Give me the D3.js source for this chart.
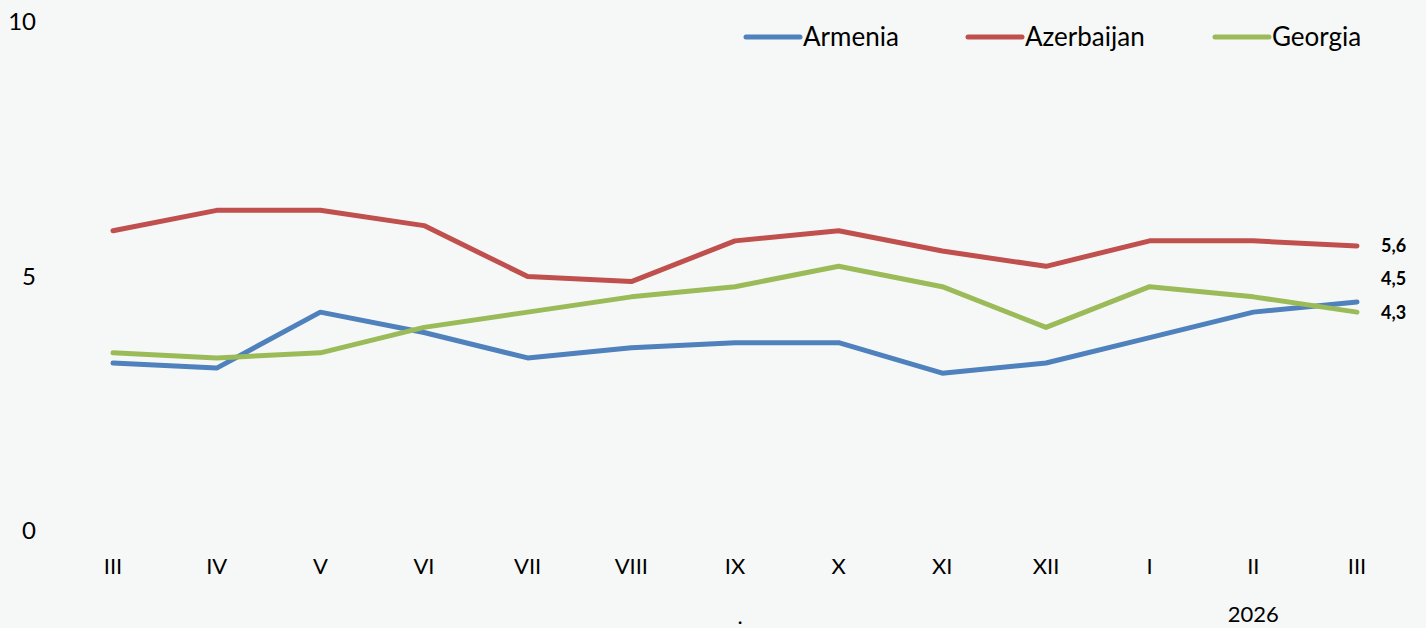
<!DOCTYPE html>
<html>
<head>
<meta charset="utf-8">
<script src="https://cdn.jsdelivr.net/npm/d3@7"></script>
<style>
  body { margin: 0; background: #f6f8f7; }
  svg { display: block; font-family: Lato, "Open Sans", sans-serif; }
</style>
</head>
<body>
<svg></svg>
<script>
const months = ["III", "IV", "V", "VI", "VII", "VIII", "IX", "X", "XI", "XII", "I", "II", "III"];
const armenia = [3.3, 3.2, 4.3, 3.9, 3.4, 3.6, 3.7, 3.7, 3.1, 3.3, 3.8, 4.3, 4.5];
const azerbaijan = [5.9, 6.3, 6.3, 6.0, 5.0, 4.9, 5.7, 5.9, 5.5, 5.2, 5.7, 5.7, 5.6];
const georgia = [3.5, 3.4, 3.5, 4.0, 4.3, 4.6, 4.8, 5.2, 4.8, 4.0, 4.8, 4.6, 4.3];
const yTicks = [0, 5, 10];
const seriesNames = ["Armenia", "Azerbaijan", "Georgia"];
const colors = ["#4f81bd", "#c0504d", "#9bbb59"];

const series = [armenia, azerbaijan, georgia];

const width = 1426, height = 628;
const svg = d3.select("svg").attr("width", width).attr("height", height);

const x = d3.scalePoint()
    .domain(d3.range(months.length))
    .range([113, 1357]);

const y = d3.scaleLinear()
    .domain([0, 10])
    .range([531, 22]);

// y labels
svg.append("g")
    .selectAll("text")
    .data(yTicks)
    .enter()
    .append("text")
    .attr("x", 36)
    .attr("y", d => y(d))
    .attr("dy", "0.35em")
    .attr("text-anchor", "end")
    .style("font-size", "24px")
    .text(d => d);

// x labels
svg.append("g")
    .selectAll("text")
    .data(months)
    .enter()
    .append("text")
    .attr("x", (d, i) => x(i))
    .attr("y", 566)
    .attr("dy", "0.35em")
    .attr("text-anchor", "middle")
    .style("font-size", "22px")
    .text(d => d);

svg.append("text")
    .attr("x", x(11))
    .attr("y", 614)
    .attr("dy", "0.35em")
    .attr("text-anchor", "middle")
    .style("font-size", "22px")
    .text("2026");

svg.append("text")
    .attr("x", 740)
    .attr("y", 624)
    .attr("text-anchor", "middle")
    .style("font-size", "22px")
    .text(".");

const line = d3.line()
    .x((d, i) => x(i))
    .y(d => y(d));

svg.selectAll(".line")
    .data(series)
    .enter()
    .append("path")
    .attr("class", "line")
    .style("fill", "none")
    .style("stroke-width", 5)
    .style("stroke-linecap", "round")
    .style("stroke-linejoin", "round")
    .style("stroke", (d, i) => colors[i])
    .attr("d", d => line(d));

// end labels (armenia label nudged up so it doesn't overlap)
const last = months.length - 1;
svg.append("g")
    .selectAll("text")
    .data([azerbaijan, armenia, georgia])
    .enter()
    .append("text")
    .attr("x", 1381)
    .attr("y", (d, i) => y(d[last]) + [0, -23, 1][i])
    .attr("dy", "0.35em")
    .style("font-size", "18px")
    .style("font-weight", "bold")
    .text(d => d3.format(".1f")(d[last]).replace(".", ","));

// legend
const legendX = [746, 968, 1215];
const legend = svg.append("g")
    .selectAll("g")
    .data(seriesNames)
    .enter()
    .append("g")
    .attr("transform", (d, i) => `translate(${legendX[i]},37)`);

legend.append("line")
    .attr("x1", 0).attr("x2", 54)
    .attr("y1", 0).attr("y2", 0)
    .style("stroke", (d, i) => colors[i])
    .style("stroke-width", 5)
    .style("stroke-linecap", "round");

legend.append("text")
    .attr("x", 57)
    .attr("dy", "0.35em")
    .style("font-size", "26px")
    .text(d => d);
</script>
</body>
</html>
